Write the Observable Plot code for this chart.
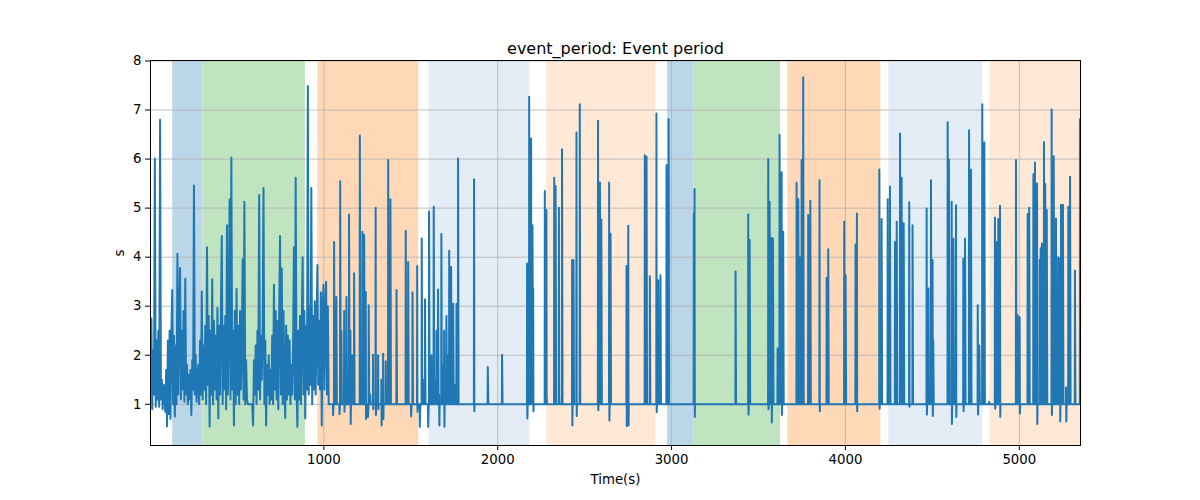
<!DOCTYPE html>
<html>
<head>
<meta charset="utf-8">
<script src="https://cdn.jsdelivr.net/npm/d3@7"></script>
<script src="https://cdn.jsdelivr.net/npm/@observablehq/plot@0.6"></script>
<style>
  body { margin: 0; background: white; }
</style>
</head>
<body>
<div id="chart"></div>
<script>
// shaded phases (seconds)
const spanStart = [131, 305, 965, 1605, 2282, 2977, 3130, 3669, 4250, 4831];
const spanEnd   = [305, 894, 1546, 2185, 2910, 3130, 3627, 4204, 4791, 5360];
const spanPhase = ['a', 'b', 'c', 'd', 'e', 'a', 'b', 'c', 'd', 'e'];

// busy start of the recording, one value every 5 s from t = 3
const denseStart = 3;
const denseStep = 5;
const denseValues = [
  2.2, 2.75, 0.9, 2.1, 1.2, 6.01, 0.95, 2.3, 1.1, 2.5,
  0.95, 6.8, 1.1, 1.5, 0.9, 1.4, 1.3, 0.85, 1.7, 0.55,
  2.3, 0.8, 2.5, 0.7, 2.4, 3.33, 1.0, 2.4, 0.75, 2.2,
  1.0, 4.07, 1.2, 2.8, 3.78, 1.1, 2.5, 1.3, 2.9, 1.05,
  3.56, 1.2, 1.8, 1.0, 1.6, 1.1, 1.7, 0.78, 1.9, 1.3,
  5.46, 1.2, 2.0, 1.05, 1.5, 1.8, 1.0, 2.3, 1.2, 3.3,
  1.1, 2.2, 1.3, 2.6, 1.0, 4.2, 1.4, 2.8, 0.54, 2.5,
  1.2, 3.55, 1.0, 2.7, 1.3, 2.4, 1.1, 2.97, 0.71, 2.6,
  1.2, 2.9, 4.43, 1.0, 2.6, 1.3, 2.8, 0.9, 4.65, 1.2,
  2.7, 5.18, 1.1, 6.03, 1.3, 2.5, 0.57, 2.9, 1.0, 3.35,
  1.2, 2.6, 1.0, 2.9, 1.3, 2.2, 3.96, 1.1, 5.13, 1.0,
  1.9, 1.1, 1.0, 1.0, 1.0, 1.0, 1.0, 1.0, 0.57, 1.9,
  1.2, 2.2, 1.0, 2.5, 1.3, 5.27, 1.1, 2.4, 1.5, 2.6,
  5.41, 1.0, 2.3, 0.57, 1.8, 1.2, 2.0, 1.0, 1.7, 1.1,
  2.4, 1.0, 3.44, 1.3, 2.9, 1.1, 2.7, 0.9, 2.8, 4.43,
  1.2, 3.77, 1.0, 2.9, 1.3, 0.72, 2.6, 1.1, 2.4, 1.2,
  2.3, 1.0, 1.8, 1.2, 2.2, 4.2, 1.1, 5.62, 1.3, 0.54,
  2.5, 1.1, 2.8, 1.0, 2.6, 4.0, 1.2, 2.9, 0.71, 2.6,
  1.3, 7.49, 1.2, 3.0, 1.4, 5.41, 1.0, 2.8, 1.3, 3.1,
  1.2, 2.5, 3.84, 1.4, 2.7, 1.3, 3.28, 0.57, 2.9, 3.44,
  1.3, 2.8, 3.5, 1.2, 3.0, 1.0, 1.0, 1.0, 1.0, 1.0
];

// rest of the recording: excursions off the 1 s baseline [time, value, low after]
const midSpikes = [
  [1053, 0.78, 1], [1059, 4.31, 1], [1067, 2.8, 1], [1072, 3.19, 1], [1090, 0.8, 1],
  [1094, 5.55, 1], [1101, 2.5, 1], [1117, 2.9, 0.85], [1130, 3.19, 1], [1137, 1.5, 1],
  [1145, 4.87, 1], [1153, 2.5, 0.6], [1164, 2.0, 1], [1174, 3.67, 1], [1207, 6.48, 1],
  [1216, 2.0, 1], [1222, 4.52, 1], [1228, 1.5, 1], [1232, 4.45, 1], [1237, 1.6, 1],
  [1241, 3.29, 0.7], [1254, 0.74, 1], [1258, 3.02, 1], [1266, 1.2, 1], [1283, 2.01, 0.9],
  [1298, 5.01, 0.78], [1312, 2.0, 0.9], [1331, 1.5, 0.57], [1341, 2.03, 0.7], [1356, 1.88, 1],
  [1370, 5.98, 1], [1377, 2.2, 1], [1383, 5.18, 1], [1418, 3.33, 1], [1471, 4.54, 1],
  [1477, 1.2, 1], [1485, 3.9, 1], [1502, 0.75, 1], [1510, 3.28, 1], [1537, 3.82, 0.85],
  [1552, 0.54, 1], [1563, 4.38, 1], [1571, 1.5, 1], [1582, 3.14, 1], [1600, 0.54, 1],
  [1605, 4.93, 1], [1611, 1.3, 1], [1619, 2.0, 1], [1632, 5.03, 1], [1640, 1.5, 1],
  [1648, 2.5, 1], [1657, 3.34, 1], [1663, 1.2, 0.57], [1676, 4.47, 1], [1684, 1.8, 1],
  [1692, 2.5, 0.54], [1705, 2.8, 1], [1715, 2.0, 1], [1721, 4.13, 1], [1727, 1.5, 1],
  [1732, 3.8, 1], [1738, 1.2, 1], [1744, 3.05, 1], [1753, 1.4, 1], [1763, 3.05, 1],
  [1772, 6.01, 1]
];

const spikes = [
  [1864, 5.59, 0.86], [1943, 1.76, 1], [2025, 2.01, 1],
  [2169, 3.87, 0.71], [2181, 7.27, 1.9], [2192, 6.42, 1.3], [2200, 4.65, 1], [2204, 3.36, 0.86],
  [2271, 5.35, 1], [2280, 4.96, 1.2], [2325, 5.62, 1], [2333, 5.45, 1], [2352, 5.01, 1.2],
  [2370, 6.2, 1], [2428, 3.94, 0.57], [2436, 3.94, 1], [2453, 6.54, 0.76], [2472, 7.12, 1],
  [2577, 6.78, 0.88], [2588, 5.52, 1], [2596, 4.77, 1], [2641, 5.52, 0.67], [2649, 4.48, 1],
  [2741, 3.82, 0.56], [2751, 4.64, 0.57], [2846, 6.08, 1], [2856, 6.05, 1], [2875, 3.61, 1],
  [2913, 6.93, 0.84], [2923, 3.53, 1], [2936, 3.63, 1], [2971, 5.88, 1], [2983, 6.81, 1],
  [3128, 4.89, 1], [3132, 5.39, 0.74], [3368, 3.71, 1], [3441, 4.87, 0.79], [3449, 4.35, 1],
  [3556, 6.0, 0.9], [3564, 5.13, 1], [3575, 4.39, 0.63], [3583, 4.38, 1], [3610, 2.14, 1],
  [3621, 6.49, 1], [3633, 5.73, 0.78], [3642, 4.52, 1],
  [3719, 5.52, 1], [3729, 5.18, 1], [3738, 4.0, 1], [3748, 5.98, 1], [3757, 7.67, 1],
  [3786, 4.86, 1], [3798, 5.15, 1], [3851, 5.57, 0.86], [3892, 3.58, 1], [3901, 4.16, 1],
  [3993, 4.72, 1], [4001, 3.63, 1], [4058, 4.26, 1], [4066, 4.89, 0.86],
  [4195, 5.79, 0.91], [4208, 4.78, 1], [4243, 5.18, 1], [4256, 5.44, 1], [4285, 4.31, 1],
  [4295, 4.72, 1], [4314, 6.52, 1], [4323, 5.62, 1], [4335, 4.69, 1], [4367, 5.12, 0.95],
  [4386, 4.65, 1], [4467, 4.99, 0.79], [4477, 3.36, 1], [4492, 5.57, 1], [4501, 3.94, 0.76],
  [4505, 2.31, 1], [4588, 6.75, 1], [4595, 5.99, 1], [4611, 5.13, 0.6], [4621, 4.38, 1],
  [4636, 5.06, 0.74], [4678, 3.97, 0.86], [4688, 4.38, 1], [4711, 6.59, 1], [4722, 5.78, 1],
  [4761, 3.02, 0.79], [4770, 2.2, 1], [4787, 7.12, 1], [4799, 6.34, 1], [4826, 1.05, 1],
  [4860, 4.81, 0.91], [4869, 4.31, 1], [4879, 4.78, 1], [4889, 5.05, 0.74],
  [4981, 5.98, 1], [4990, 2.82, 1], [5002, 2.78, 0.81], [5048, 4.88, 1], [5057, 5.01, 1],
  [5081, 5.69, 1], [5090, 5.93, 1], [5102, 5.5, 0.6], [5117, 3.94, 1], [5123, 4.18, 1],
  [5130, 4.28, 1], [5142, 6.35, 1], [5149, 5.49, 1], [5158, 4.96, 1], [5186, 7.01, 0.78],
  [5198, 6.06, 1], [5211, 4.79, 1], [5224, 4.0, 1], [5234, 3.97, 0.65], [5240, 5.07, 1],
  [5251, 5.07, 1], [5269, 1.35, 0.65], [5282, 5.03, 1], [5292, 5.64, 1], [5320, 3.73, 1],
  [5349, 6.81, 1]
];

const xTicks = [1000, 2000, 3000, 4000, 5000];
const yTicks = [1, 2, 3, 4, 5, 6, 7, 8];

const phaseColor = {a: '#bbd6e8', b: '#c0e3c0', c: '#ffd9b7', d: '#e4edf6', e: '#ffe9d6'};

const spans = spanStart.map((s, i) => ({start: s, end: spanEnd[i], phase: spanPhase[i]}));

const series = [];
denseValues.forEach((v, i) => series.push({t: denseStart + i * denseStep, v}));
midSpikes.concat(spikes).forEach(([t, peak, low]) => {
  series.push({t: t - 1, v: 1});
  series.push({t, v: peak});
  if (low !== 1) series.push({t: t + 1.5, v: low});
  series.push({t: t + 3, v: 1});
});

const chart = Plot.plot({
  width: 1200,
  height: 500,
  marginLeft: 150,
  marginRight: 120,
  marginTop: 60,
  marginBottom: 55,
  style: {fontFamily: 'DejaVu Sans', fontSize: '13.3px', background: 'white', color: 'black'},
  x: {domain: [3, 5352]},
  y: {domain: [0.16, 8.01]},
  color: {type: 'identity'},
  marks: [
    Plot.rect(spans, {x1: 'start', x2: 'end', fill: d => phaseColor[d.phase]}),
    Plot.gridX({ticks: xTicks, stroke: '#b0b0b0', strokeOpacity: 1, strokeWidth: 0.8}),
    Plot.gridY({ticks: yTicks, stroke: '#b0b0b0', strokeOpacity: 1, strokeWidth: 0.8}),
    Plot.line(series, {x: 't', y: 'v', stroke: '#1f77b4', strokeWidth: 2, clip: true}),
    Plot.frame({stroke: 'black', strokeWidth: 1}),
    Plot.axisX({ticks: xTicks, tickSize: 5, tickPadding: 4, tickFormat: d => String(d),
      label: 'Time(s)', labelAnchor: 'center', labelOffset: 38, labelArrow: 'none'}),
    Plot.axisY({ticks: yTicks, tickSize: 5, tickPadding: 4, tickFormat: d => String(d),
      label: 's', labelAnchor: 'center', labelOffset: 36, labelArrow: 'none'}),
    Plot.text(['event_period: Event period'], {frameAnchor: 'top', lineAnchor: 'bottom', dy: -7, fontSize: 16})
  ]
});

d3.select('#chart').append(() => chart);
</script>
</body>
</html>
